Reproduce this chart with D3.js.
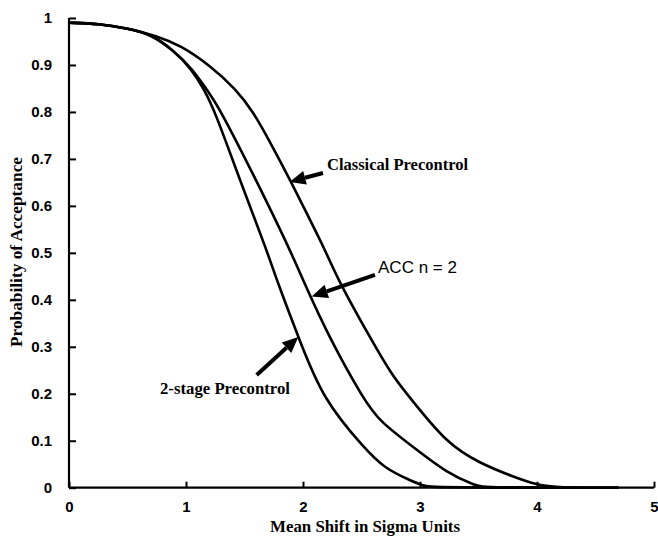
<!DOCTYPE html>
<html><head><meta charset="utf-8">
<script src="https://cdn.jsdelivr.net/npm/d3@7"></script>
<style>body{margin:0;background:#fff}</style>
</head><body>
<svg id="c" width="658" height="537"></svg>
<script>
const xTicks = [0, 1, 2, 3, 4, 5];
const yTicks = [0, 0.1, 0.2, 0.3, 0.4, 0.5, 0.6, 0.7, 0.8, 0.9, 1];
const yTickLabels = ["0", "0.1", "0.2", "0.3", "0.4", "0.5", "0.6", "0.7", "0.8", "0.9", "1"];

const classicalX = [0, 0.25, 0.5, 0.75, 0.95, 1.2, 1.43, 1.575, 1.72, 1.89, 2.0, 2.19, 2.3, 2.57, 2.77, 2.93, 3.23, 3.51, 3.8, 4.0, 4.17, 4.7];
const classicalY = [0.99, 0.988, 0.978, 0.962, 0.942, 0.9, 0.848, 0.8, 0.735, 0.655, 0.6, 0.506, 0.442, 0.321, 0.235, 0.187, 0.094, 0.052, 0.023, 0.006, 0, 0];

const accX = [0, 0.25, 0.5, 0.69, 0.9, 1.05, 1.2, 1.29, 1.6, 1.89, 2.0, 2.22, 2.52, 2.66, 2.94, 3.23, 3.48, 3.55, 4.7];
const accY = [0.99, 0.988, 0.978, 0.967, 0.93, 0.893, 0.84, 0.806, 0.655, 0.506, 0.442, 0.321, 0.187, 0.14, 0.087, 0.031, 0.004, 0, 0];

const twoStageX = [0, 0.25, 0.5, 0.69, 0.9, 1.05, 1.15, 1.25, 1.46, 1.69, 1.775, 1.96, 2.17, 2.54, 2.69, 2.91, 3.03, 3.1, 4.7];
const twoStageY = [0.99, 0.988, 0.978, 0.967, 0.93, 0.89, 0.85, 0.8, 0.655, 0.506, 0.442, 0.321, 0.187, 0.08, 0.043, 0.016, 0.004, 0, 0];

const seriesNames = ["Classical Precontrol", "ACC n = 2", "2-stage Precontrol"];

const svg = d3.select("#c");
const x = d3.scaleLinear().domain([0, 5]).range([69, 654]);
const y = d3.scaleLinear().domain([0, 1]).range([487.7, 18]);

const serif = "Liberation Serif, Times New Roman, serif";
const sans = "Liberation Sans, Arial, sans-serif";

// axes
svg.append("line").attr("x1", x(0)).attr("x2", x(0)).attr("y1", y(1)).attr("y2", y(0))
  .attr("stroke", "#000").attr("stroke-width", 2.2);
svg.append("line").attr("x1", x(0)).attr("x2", x(5)).attr("y1", y(0)).attr("y2", y(0))
  .attr("stroke", "#000").attr("stroke-width", 2.2);

const yAxis = d3.axisLeft(y).tickValues(yTicks).tickSize(-7).tickPadding(17)
  .tickFormat((d, i) => yTickLabels[i]);
const ya = svg.append("g").attr("transform", `translate(${x(0)},0)`).call(yAxis);
ya.select(".domain").remove();
ya.selectAll(".tick line").attr("stroke", "#000").attr("stroke-width", 2);
ya.selectAll(".tick text").attr("font-family", sans)
  .attr("font-weight", "bold").attr("font-size", 15).attr("fill", "#000");

const xAxis = d3.axisBottom(x).tickValues(xTicks).tickSize(-6).tickPadding(14).tickFormat(d3.format("d"));
const xa = svg.append("g").attr("transform", `translate(0,${y(0)})`).call(xAxis);
xa.select(".domain").remove();
xa.selectAll(".tick line").attr("stroke", "#000").attr("stroke-width", 2);
xa.selectAll(".tick text").attr("font-family", sans)
  .attr("font-weight", "bold").attr("font-size", 15).attr("fill", "#000");

// axis titles
svg.append("text").attr("x", 365).attr("y", 532).attr("text-anchor", "middle")
  .attr("font-family", serif).attr("font-weight", "bold")
  .attr("font-size", 16.5).attr("textLength", 190).attr("lengthAdjust", "spacingAndGlyphs")
  .text("Mean Shift in Sigma Units");
svg.append("text").attr("transform", `translate(22,252) rotate(-90)`).attr("text-anchor", "middle")
  .attr("font-family", serif).attr("font-weight", "bold")
  .attr("font-size", 16.5).attr("textLength", 190).attr("lengthAdjust", "spacingAndGlyphs")
  .text("Probability of Acceptance");

// curves
const line = d3.line().x(d => x(d[0])).y(d => y(d[1])).curve(d3.curveBasis);
[[classicalX, classicalY], [accX, accY], [twoStageX, twoStageY]].forEach(([xs, ys]) => {
  svg.append("path").datum(xs.map((v, i) => [v, ys[i]]))
    .attr("d", line).attr("fill", "none").attr("stroke", "#000").attr("stroke-width", 2.6);
});

// arrows
function arrow(x1, y1, x2, y2) {
  const ang = Math.atan2(y2 - y1, x2 - x1);
  const L = 16, W = 7;
  const bx = x2 - L * Math.cos(ang), by = y2 - L * Math.sin(ang);
  svg.append("line").attr("x1", x1).attr("y1", y1).attr("x2", bx).attr("y2", by)
    .attr("stroke", "#000").attr("stroke-width", 4);
  const px = -Math.sin(ang) * W, py = Math.cos(ang) * W;
  svg.append("path").attr("d", `M${x2},${y2}L${bx + px},${by + py}L${bx - px},${by - py}Z`).attr("fill", "#000");
}
arrow(x(2.171), y(0.670), x(1.885), y(0.651));
arrow(x(2.615), y(0.453), x(2.074), y(0.407));
arrow(x(1.604), y(0.240), x(1.960), y(0.321));

svg.append("text").attr("x", 327).attr("y", y(0.670) - 3)
  .attr("font-family", serif).attr("font-weight", "bold")
  .attr("font-size", 16).attr("textLength", 141).attr("lengthAdjust", "spacingAndGlyphs")
  .text(seriesNames[0]);
svg.append("text").attr("x", 378).attr("y", y(0.453) - 2)
  .attr("font-family", sans)
  .attr("font-size", 16).attr("textLength", 79).attr("lengthAdjust", "spacingAndGlyphs")
  .text(seriesNames[1]);
svg.append("text").attr("x", 160).attr("y", y(0.2) + 0)
  .attr("font-family", serif).attr("font-weight", "bold")
  .attr("font-size", 16).attr("textLength", 130).attr("lengthAdjust", "spacingAndGlyphs")
  .text(seriesNames[2]);
</script>
</body></html>
